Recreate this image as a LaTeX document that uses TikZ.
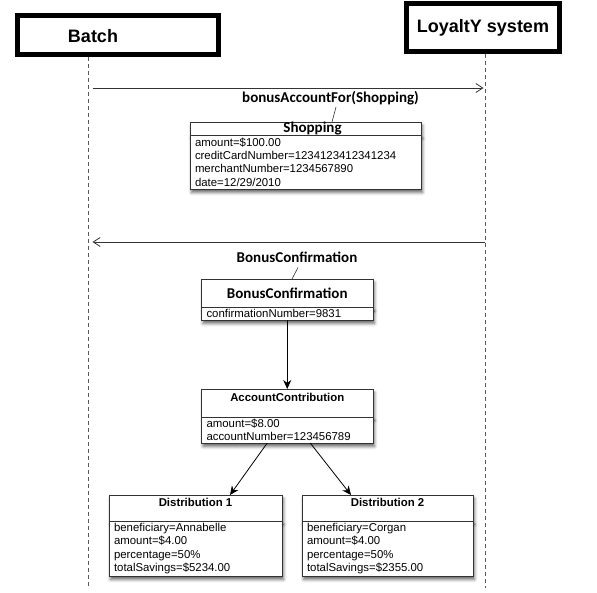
\documentclass[tikz,border=0pt]{standalone}
\usepackage{fontspec}
\setmainfont{Liberation Sans}
\newfontfamily\titulofont{Carlito}
\usetikzlibrary{positioning, arrows.meta, shadows.blur}

\begin{document}
\begin{tikzpicture}[x=1pt, y=-1pt,
  actor/.style={draw=black, line width=5pt, fill=white, inner sep=0pt},
  actortexto/.style={font=\fontsize{18}{20}\selectfont\bfseries, inner sep=1pt},
  vida/.style={draw=black!65, line width=0.8pt, dash pattern=on 4pt off 3pt},
  mensaje/.style={draw=black!80, line width=0.8pt, -{Straight Barb[length=7pt,width=9pt]}},
  etiqueta/.style={font=\titulofont\fontsize{15}{17}\selectfont\bfseries, inner sep=1pt},
  enlace/.style={draw=black!80, line width=0.6pt},
  cabecera/.style={draw=black!80, line width=0.8pt, fill=white, outer sep=0pt, inner sep=0pt,
    blur shadow={shadow xshift=1.5pt, shadow yshift=-3.5pt, shadow blur radius=3pt, shadow opacity=60}},
  cuerpo/.style={cabecera, align=left, text width=#1, inner xsep=5pt, inner ysep=0pt,
    font=\fontsize{11.4}{13.4}\selectfont},
  titulo/.style={font=\fontsize{11.4}{13}\selectfont\bfseries},
  flujo/.style={draw=black, line width=0.8pt, -{Stealth[length=9pt,width=8pt]}},
]
\useasboundingbox (0,0) rectangle (597,592);

% Actores
\node[actor, minimum width=201pt, minimum height=39pt] (batch) at (117.5,34.5) {};
\node[actortexto] (batchTxt) at (93,36) {Batch};
\node[actor, minimum width=153pt, minimum height=48pt, font=\fontsize{18}{20}\selectfont\bfseries] (loyalty) at (483,27.5) {LoyaltY system};

% Lineas de vida
\coordinate (finBatch) at (88.5,588);
\coordinate (finLoyalty) at (485,588);
\draw[vida] (batch.south -| finBatch) -- (finBatch);
\draw[vida] (loyalty.south -| finLoyalty) -- (finLoyalty);

% Mensaje de ida
\coordinate (m1a) at (88.5,88);
\coordinate (m1b) at (485,88);
\draw[mensaje, shorten <=4pt, shorten >=1.5pt] (m1a) -- (m1b);
\node[etiqueta] (lblBonus) at (330.5,98) {bonusAccountFor(Shopping)};

% Objeto Shopping
\node[cabecera, minimum width=231pt, text height=10pt, text depth=3pt, anchor=north,
  font=\titulofont\fontsize{15}{17}\selectfont\bfseries] (shopH) at (305.5,122) {\hspace*{14pt}Shopping};
\node[cuerpo=221pt, minimum height=54pt, below=0pt of shopH] (shopB)
  {amount=\$100.00\\creditCardNumber=1234123412341234\\merchantNumber=1234567890\\date=12/29/2010};
\draw[enlace] ([xshift=5.5pt,yshift=-1pt]lblBonus.south) -- ([xshift=26.5pt]shopH.north);

% Mensaje de vuelta
\coordinate (m2a) at (485,242);
\coordinate (m2b) at (88.5,242);
\draw[mensaje, shorten >=4pt] (m2a) -- (m2b);
\node[etiqueta] (lblConf) at (297,257) {BonusConfirmation};

% Objeto BonusConfirmation
\node[cabecera, minimum width=171.5pt, minimum height=28.5pt, anchor=north,
  font=\titulofont\fontsize{15}{17}\selectfont\bfseries] (confH) at (287.25,279) {BonusConfirmation};
\node[cuerpo=161.5pt, minimum height=12.5pt, below=0pt of confH] (confB) {confirmationNumber=9831};
\draw[enlace] ([xshift=1pt,yshift=-4pt]lblConf.south) -- ([xshift=4.75pt]confH.north);

% Objeto AccountContribution
\node[cabecera, titulo, minimum width=171.5pt, text height=12pt, text depth=16pt, anchor=north] (acctH) at (287.25,389) {AccountContribution};
\node[cuerpo=161.5pt, minimum height=26pt, below=0pt of acctH] (acctB) {amount=\$8.00\\accountNumber=123456789};

% Objetos Distribution
\node[cabecera, titulo, minimum width=173pt, text height=11pt, text depth=15pt, anchor=north] (d1H) at (195.5,495) {Distribution 1};
\node[cuerpo=163pt, minimum height=55pt, below=0pt of d1H] (d1B)
  {beneficiary=Annabelle\\amount=\$4.00\\percentage=50\%\\totalSavings=\$5234.00};
\node[cabecera, titulo, minimum width=171pt, text height=11pt, text depth=15pt, anchor=north] (d2H) at (387.5,495) {Distribution 2};
\node[cuerpo=161pt, minimum height=55pt, below=0pt of d2H] (d2B)
  {beneficiary=Corgan\\amount=\$4.00\\percentage=50\%\\totalSavings=\$2355.00};

% Flechas entre objetos
\draw[flujo] (confB.south) -- (acctH.north);
\draw[flujo] ([xshift=-20pt]acctB.south) -- ([xshift=34.5pt]d1H.north);
\draw[flujo] ([xshift=23pt]acctB.south) -- ([xshift=-36.5pt]d2H.north);

\end{tikzpicture}
\end{document}
